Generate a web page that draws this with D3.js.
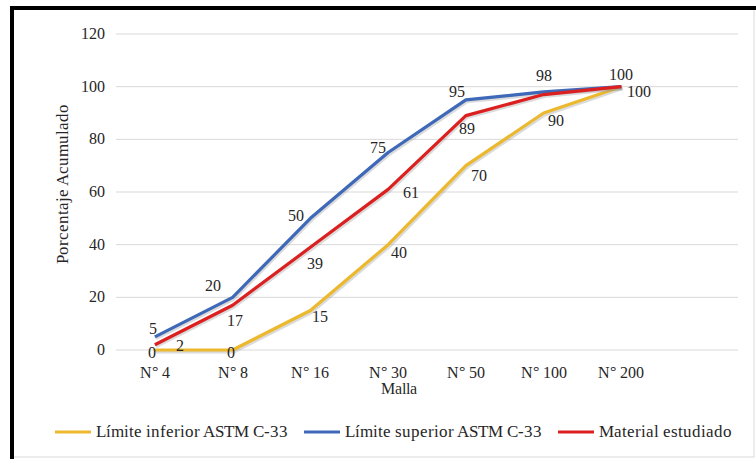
<!DOCTYPE html>
<html>
<head>
<meta charset="utf-8">
<script src="https://cdn.jsdelivr.net/npm/d3@7"></script>
<style>
  @font-face {
    font-family: 'ChartSerif';
    src: local('Liberation Serif'), local('LiberationSerif'), local('LiberationSerif-Regular'), local('Tinos'), local('Tinos-Regular');
  }
  body { margin: 0; background: #fff; }
  #chart text { font-family: 'ChartSerif', 'Liberation Serif', 'Tinos', serif; }
</style>
</head>
<body>
<div id="chart"></div>
<script>
// sieve sizes (last slot left empty like the original)
var mallas = ['N° 4', 'N° 8', 'N° 16', 'N° 30', 'N° 50', 'N° 100', 'N° 200', ''];
var limInferior = [0, 0, 15, 40, 70, 90, 100];
var limSuperior = [5, 20, 50, 75, 95, 98, 100];
var material = [2, 17, 39, 61, 89, 97, 100];
var yTicks = [0, 20, 40, 60, 80, 100, 120];
var seriesNames = ['Límite inferior ASTM C-33', 'Límite superior ASTM C-33', 'Material estudiado'];

var W = 756, H = 459;
var margin = { top: 34, right: 18, bottom: 109, left: 116 };
var width = W - margin.left - margin.right,
  height = H - margin.top - margin.bottom;

var svg = d3.select('#chart').append('svg')
  .attr('width', W)
  .attr('height', H);

// frame
svg.append('rect')
  .attr('x', 12).attr('y', 8)
  .attr('width', W - 14).attr('height', H - 10)
  .attr('fill', '#fff')
  .attr('stroke', '#d9d9d9');
svg.append('path')
  .attr('d', 'M12,' + H + 'V8H' + W)
  .attr('fill', 'none')
  .attr('stroke', '#000')
  .attr('stroke-width', 4);

var g = svg.append('g')
  .attr('transform', 'translate(' + margin.left + ',' + margin.top + ')');

var x = d3.scaleBand().domain(mallas).range([0, 622]);
var y = d3.scaleLinear().domain([0, 120]).range([height, 0]);
var xc = function(i) { return x(mallas[i]) + x.bandwidth() / 2; };

function txt(sel, size) {
  return sel.attr('fill', '#262626')
    .style('font-size', (size || 16) + 'px');
}

// gridlines
g.selectAll('.grid')
  .data(yTicks)
  .enter().append('line')
  .attr('x1', 0).attr('x2', 622)
  .attr('y1', d => y(d)).attr('y2', d => y(d))
  .attr('stroke', '#d9d9d9')
  .attr('stroke-width', 1);

txt(g.selectAll('.ytick')
  .data(yTicks)
  .enter().append('text')
  .attr('x', -11)
  .attr('y', d => y(d) + 5)
  .attr('text-anchor', 'end')
  .text(d => d));

txt(g.selectAll('.xtick')
  .data(mallas.slice(0, 7))
  .enter().append('text')
  .attr('x', (d, i) => xc(i))
  .attr('y', height + 28)
  .attr('text-anchor', 'middle')
  .text(d => d));

txt(g.append('text')
  .attr('x', 283)
  .attr('y', height + 44)
  .attr('text-anchor', 'middle')
  .text('Malla'));

txt(g.append('text')
  .attr('transform', 'translate(-48,' + (height / 2 - 8) + ') rotate(-90)')
  .attr('text-anchor', 'middle')
  .text('Porcentaje Acumulado'), 17);

var series = [
  { name: seriesNames[0], values: limInferior, color: '#EBB82E', show: [1, 1, 1, 1, 1, 1, 1] },
  { name: seriesNames[1], values: limSuperior, color: '#3E68B8', show: [1, 1, 1, 1, 1, 1, 1] },
  { name: seriesNames[2], values: material, color: '#DC2020', show: [1, 1, 1, 1, 1, 0, 0] }
];

var line = d3.line()
  .x((d, i) => xc(i))
  .y(d => y(d));

series.forEach(function(s) {
  g.append('path')
    .datum(s.values)
    .attr('d', line)
    .attr('fill', 'none')
    .attr('stroke', '#999')
    .attr('stroke-opacity', 0.35)
    .attr('stroke-width', 4)
    .attr('transform', 'translate(1,1.5)');
  g.append('path')
    .datum(s.values)
    .attr('d', line)
    .attr('fill', 'none')
    .attr('stroke', s.color)
    .attr('stroke-width', 3.2)
    .attr('stroke-linejoin', 'round');
});

// data label offsets [dx, dy] from each point
var labelPos = {
  0: [[-3, 8], [-2, 8], [10, 11], [11, 13], [13, 15], [12, 13], [18, 10]],
  1: [[-2, -3], [-20, -6], [-14, 3], [-10, 0], [-9, -3], [0, -11], [0, -7]],
  2: [[25, 6], [2, 21], [5, 22], [23, 9], [1, 18]]
};

series.forEach(function(s, si) {
  s.values.forEach(function(v, i) {
    if (!s.show[i]) return;
    var p = labelPos[si][i];
    txt(g.append('text')
      .attr('x', xc(i) + p[0])
      .attr('y', y(v) + p[1])
      .attr('text-anchor', 'middle')
      .text(v));
  });
});

// legend
var legendX = [55, 304, 558];
var legend = svg.selectAll('.legend')
  .data(series)
  .enter().append('g')
  .attr('transform', (d, i) => 'translate(' + legendX[i] + ',432)');
legend.append('line')
  .attr('x1', 0).attr('x2', 36)
  .attr('stroke', d => d.color)
  .attr('stroke-width', 3.2);
txt(legend.append('text')
  .attr('x', 41)
  .attr('y', 5)
  .text(d => d.name), 17);
</script>
</body>
</html>
